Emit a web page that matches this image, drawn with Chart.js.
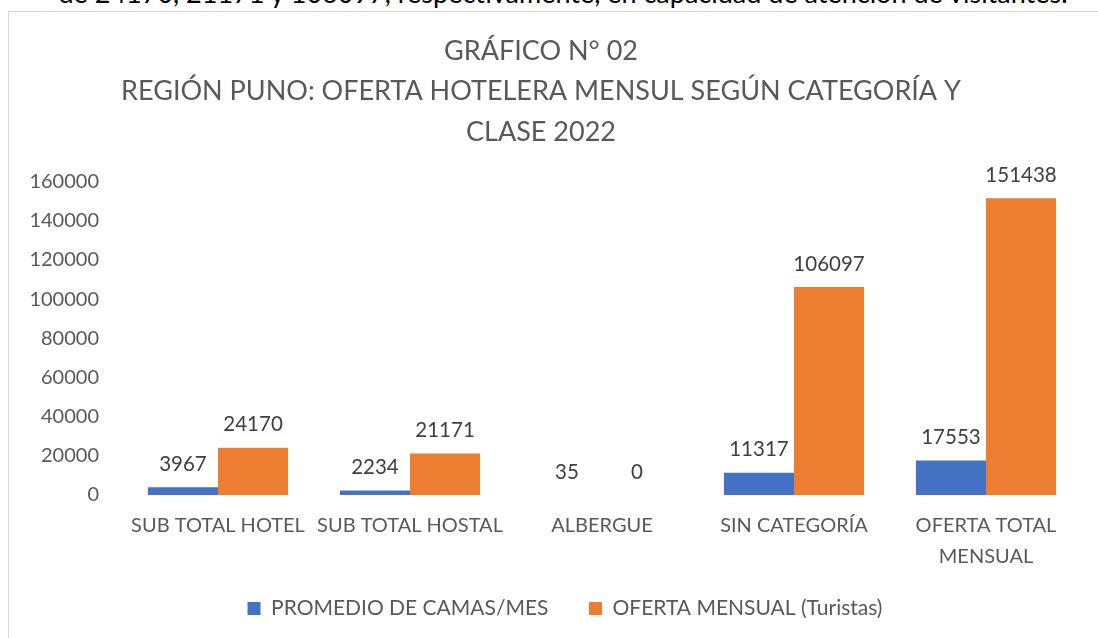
<!DOCTYPE html>
<html>
<head>
<meta charset="utf-8">
<script src="https://cdn.jsdelivr.net/npm/chart.js@4"></script>
<style>
  html, body { margin: 0; padding: 0; background: #fff; overflow: hidden; }
  body { width: 1098px; height: 638px; position: relative; font-family: Lato, sans-serif; }
  #intro { position: absolute; left: 0; width: 1126px; top: -24px; text-align: center; font-size: 27px; color: #000; white-space: nowrap; }
  #frame { position: absolute; left: 8px; top: 11px; width: 1200px; height: 700px; border: 1px solid #d9d9d9; }
  #wrap { position: absolute; left: 0; top: 0; width: 1098px; height: 638px; }
</style>
</head>
<body>
<div id="intro">de 24170, 21171 y 106097, respectivamente, en capacidad de atención de visitantes.</div>
<div id="frame"></div>
<div id="wrap"><canvas id="ofertaChart"></canvas></div>
<script>
// categorias y series
const categorias = ['SUB TOTAL HOTEL', 'SUB TOTAL HOSTAL', 'ALBERGUE', 'SIN CATEGORÍA', ['OFERTA TOTAL', 'MENSUAL']];
const promedioCamas = [3967, 2234, 35, 11317, 17553];
const ofertaMensual = [24170, 21171, 0, 106097, 151438];
const yTicks = [0, 20000, 40000, 60000, 80000, 100000, 120000, 140000, 160000];

const textColor = '#595959';
const fontFamily = 'Lato, sans-serif';

// etiquetas de valores sobre las barras
const valueLabels = {
  id: 'valueLabels',
  afterDatasetsDraw(chart) {
    const ctx = chart.ctx;
    ctx.save();
    ctx.font = '20.5px ' + fontFamily;
    ctx.fillStyle = '#404040';
    ctx.textAlign = 'center';
    ctx.textBaseline = 'middle';
    chart.data.datasets.forEach((ds, i) => {
      chart.getDatasetMeta(i).data.forEach((bar, j) => {
        ctx.fillText(String(ds.data[j]), bar.x, bar.y - 23);
      });
    });
    ctx.restore();
  }
};

// mover la leyenda un poco a la derecha, como en el original
const legendShift = {
  id: 'legendShift',
  afterLayout(chart) {
    chart.legend.left += 24;
    chart.legend.right += 24;
  }
};

const ctx = document.getElementById('ofertaChart');
if(ctx){
  new Chart(ctx, {
    type: 'bar',
    data: {
      labels: categorias,
      datasets: [{
        label: 'PROMEDIO DE CAMAS/MES',
        data: promedioCamas,
        backgroundColor: '#4472C4',
        categoryPercentage: 0.73,
        barPercentage: 1
      }, {
        label: 'OFERTA MENSUAL (Turistas)',
        data: ofertaMensual,
        backgroundColor: '#ED7D31',
        categoryPercentage: 0.73,
        barPercentage: 1
      }]
    },
    options: {
      responsive: true,
      maintainAspectRatio: false,
      animation: false,
      layout: { padding: { left: 0, right: 16, top: 0, bottom: 9 } },
      plugins: {
        title: {
          display: true,
          text: ['GRÁFICO N° 02', 'REGIÓN PUNO: OFERTA HOTELERA MENSUL SEGÚN CATEGORÍA Y', 'CLASE 2022'],
          color: textColor,
          font: { family: fontFamily, size: 27, weight: 'normal', lineHeight: 1.5 },
          padding: { top: 31, bottom: 29 }
        },
        legend: {
          position: 'bottom',
          labels: {
            color: textColor,
            boxWidth: 13,
            boxHeight: 13,
            padding: 30,
            font: { family: fontFamily, size: 21 },
            generateLabels(chart) {
              const items = Chart.defaults.plugins.legend.labels.generateLabels(chart);
              items[0].text += '\u2002';
              return items;
            }
          }
        },
        tooltip: { enabled: false }
      },
      scales: {
        x: {
          grid: { display: false },
          border: { display: false },
          afterFit(scale) { scale.height = 73; },
          ticks: {
            color: textColor,
            padding: 7,
            maxRotation: 0,
            autoSkip: false,
            font: { family: fontFamily, size: 20, lineHeight: 1.55 }
          }
        },
        y: {
          min: 0,
          max: 160000,
          grid: { display: false },
          border: { display: false },
          afterFit(scale) { scale.width = 122; },
          afterBuildTicks(scale) { scale.ticks = yTicks.map(v => ({ value: v })); },
          ticks: {
            color: textColor,
            padding: 15,
            font: { family: fontFamily, size: 20 },
            callback: (v) => String(v)
          }
        }
      }
    },
    plugins: [valueLabels, legendShift]
  });
}
</script>
</body>
</html>
